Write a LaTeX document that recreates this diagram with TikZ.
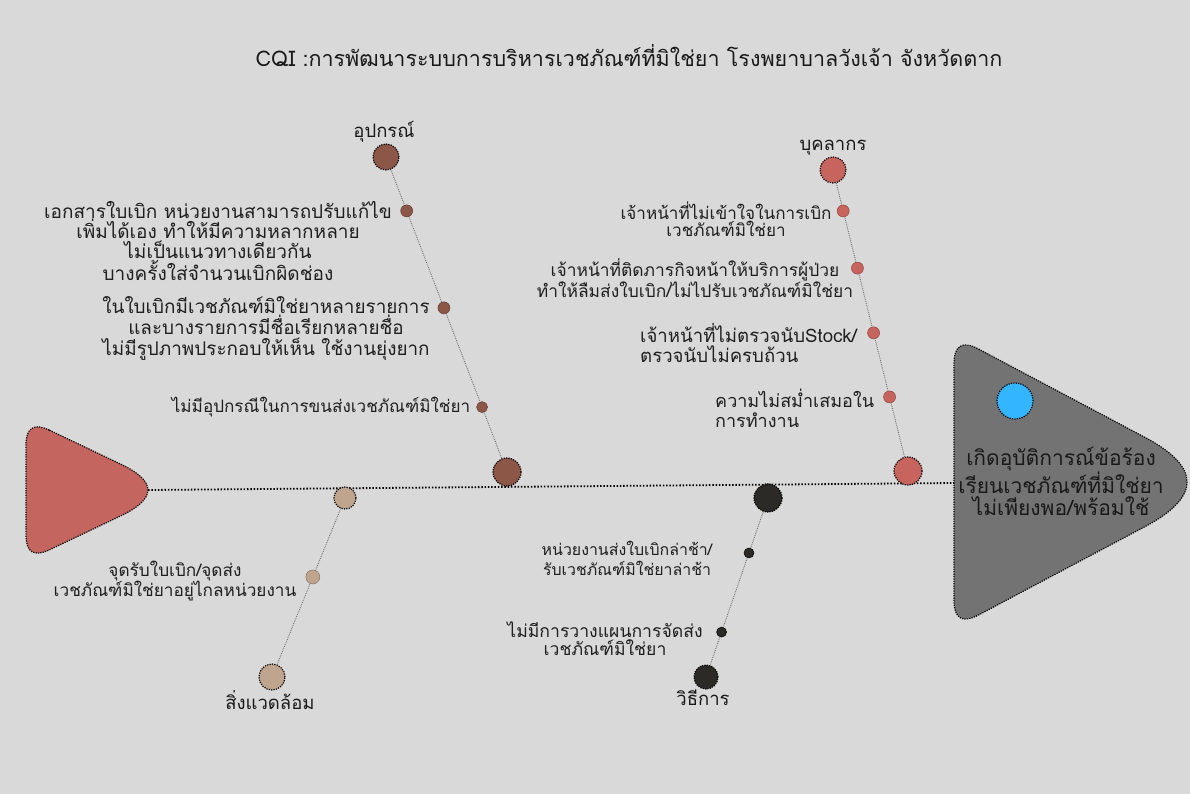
\documentclass[tikz,border=0pt]{standalone}
\usepackage{fontspec}
\newfontfamily\thai[Script=Thai]{Loma}
\usetikzlibrary{calc}
\definecolor{bgc}{HTML}{D9D9D9}
\definecolor{tailc}{HTML}{C4665F}
\definecolor{headc}{HTML}{737373}
\definecolor{bluec}{HTML}{33B5FF}
\definecolor{eqc}{HTML}{8C5747}
\definecolor{pec}{HTML}{C8645E}
\definecolor{enc}{HTML}{BFA58E}
\definecolor{mec}{HTML}{2B2A26}
\begin{document}
\begin{tikzpicture}[x=1pt,y=-1pt,
  dotline/.style={draw=black, line width=1.2pt, dash pattern=on 1.2pt off 1.2pt},
  bigdot/.style={circle, dotline, inner sep=0pt, minimum size=#1},
  smalldot/.style={circle, inner sep=0pt, minimum size=#1, line width=0.5pt},
  bone/.style={draw=black!55, line width=0.9pt, densely dotted},
  spine/.style={draw=black, line width=1.8pt, dash pattern=on 1.5pt off 1.8pt},
  txt/.style 2 args={font=\thai\fontsize{#1}{#2}\selectfont, align=center, inner sep=0pt, text=black!88},
  cat/.style={font=\thai\fontsize{18.5}{20}\selectfont, inner sep=0pt, text=black!90}]
\useasboundingbox (0,0) rectangle (1190,794);
\fill[bgc] (0,0) rectangle (1190,794);

% title
\node[font=\thai\fontsize{21.5}{24}\selectfont, inner sep=0pt, text=black!90] (title) at (629,56)
  {CQI :การพัฒนาระบบการบริหารเวชภัณฑ์ที่มิใช่ยา โรงพยาบาลวังเจ้า จังหวัดตาก};

% tail
\coordinate (tA) at (26,419); \coordinate (tB) at (175,490); \coordinate (tC) at (26,561);
\path[dotline, fill=tailc]
  ($(tA)!26pt!(tB)$) -- ($(tB)!60pt!(tA)$)
  .. controls ($(tB)!20pt!(tA)$) and ($(tB)!20pt!(tC)$) .. ($(tB)!60pt!(tC)$)
  -- ($(tC)!26pt!(tB)$)
  .. controls ($(tC)!8.7pt!(tB)$) and ($(tC)!8.7pt!(tA)$) .. ($(tC)!26pt!(tA)$)
  -- ($(tA)!26pt!(tC)$)
  .. controls ($(tA)!8.7pt!(tC)$) and ($(tA)!8.7pt!(tB)$) .. ($(tA)!26pt!(tB)$) -- cycle;

% head
\coordinate (hA) at (954,336); \coordinate (hB) at (1229,482); \coordinate (hC) at (954,628);
\path[dotline, fill=headc]
  ($(hA)!28pt!(hB)$) -- ($(hB)!95pt!(hA)$)
  .. controls ($(hB)!31.7pt!(hA)$) and ($(hB)!31.7pt!(hC)$) .. ($(hB)!95pt!(hC)$)
  -- ($(hC)!28pt!(hB)$)
  .. controls ($(hC)!9.3pt!(hB)$) and ($(hC)!9.3pt!(hA)$) .. ($(hC)!28pt!(hA)$)
  -- ($(hA)!28pt!(hC)$)
  .. controls ($(hA)!9.3pt!(hC)$) and ($(hA)!9.3pt!(hB)$) .. ($(hA)!28pt!(hB)$) -- cycle;
\node[bigdot=36pt, fill=bluec] (blue) at (1015,401) {};
\node[font=\thai\fontsize{21}{22}\selectfont, align=center, inner sep=0pt, text=black!90] (headtxt) at (1061,481)
  {เกิดอุบัติการณ์ข้อร้อง\\เรียนเวชภัณฑ์ที่มิใช่ยา\\ไม่เพียงพอ/พร้อมใช้};

% spine
\coordinate (tailtip) at (148,490);
\coordinate (headL) at (954,483);
\draw[spine] (tailtip) -- (headL);

% ---- equipment
\node[bigdot=26pt, fill=eqc] (eqB) at (386,157) {};
\node[bigdot=28pt, fill=eqc] (eqS) at (507,472) {};
\draw[bone] (eqB) -- (eqS);
\node[cat, anchor=south] (eqL) at (384,143) {อุปกรณ์};
\node[smalldot=12pt, fill=eqc, draw=eqc!70!black] (eq1) at ($(eqB)!0.171!(eqS)$) {};
\node[smalldot=12pt, fill=eqc, draw=eqc!70!black] (eq2) at ($(eqB)!0.479!(eqS)$) {};
\node[smalldot=11pt, fill=eqc, draw=eqc!70!black] (eq3) at ($(eqB)!0.794!(eqS)$) {};
\node[txt={19}{20}] (eqt1) at (218,241) {เอกสารใบเบิก หน่วยงานสามารถปรับแก้ไข\\เพิ่มได้เอง ทำให้มีความหลากหลาย\\ไม่เป็นแนวทางเดียวกัน\\บางครั้งใส่จำนวนเบิกผิดช่อง};
\node[txt={18.9}{21}] (eqt2) at (266,328) {ในใบเบิกมีเวชภัณฑ์มิใช่ยาหลายรายการ\\และบางรายการมีชื่อเรียกหลายชื่อ\\ไม่มีรูปภาพประกอบให้เห็น ใช้งานยุ่งยาก};
\node[txt={17.1}{20}] (eqt3) at (321,407) {ไม่มีอุปกรณีในการขนส่งเวชภัณฑ์มิใช่ยา};

% ---- personnel
\node[bigdot=26pt, fill=pec] (peB) at (833,170) {};
\node[bigdot=28pt, fill=pec] (peS) at (908,471) {};
\draw[bone] (peB) -- (peS);
\node[cat, anchor=south] (peL) at (833,156) {บุคลากร};
\node[smalldot=12pt, fill=pec, draw=pec!70!black] (pe1) at ($(peB)!0.136!(peS)$) {};
\node[smalldot=12pt, fill=pec, draw=pec!70!black] (pe2) at ($(peB)!0.326!(peS)$) {};
\node[smalldot=12pt, fill=pec, draw=pec!70!black] (pe3) at ($(peB)!0.541!(peS)$) {};
\node[smalldot=12pt, fill=pec, draw=pec!70!black] (pe4) at ($(peB)!0.754!(peS)$) {};
\node[txt={17.1}{17}] (pet1) at (726,219) {เจ้าหน้าที่ไม่เข้าใจในการเบิก\\เวชภัณฑ์มิใช่ยา};
\node[txt={17.4}{21}] (pet2) at (695,278) {เจ้าหน้าที่ติดภารกิจหน้าให้บริการผู้ป่วย\\ทำให้ลืมส่งใบเบิก/ไม่ไปรับเวชภัณฑ์มิใช่ยา};
\node[txt={18.6}{20}, align=left, anchor=west] (pet3) at (640,343) {เจ้าหน้าที่ไม่ตรวจนับStock/\\ตรวจนับไม่ครบถ้วน};
\node[txt={18}{20}, align=left, anchor=west] (pet4) at (715,408) {ความไม่สม่ำเสมอใน\\การทำงาน};

% ---- environment
\node[bigdot=22pt, fill=enc] (enS) at (345,498) {};
\node[bigdot=26pt, fill=enc] (enB) at (272,677) {};
\draw[bone] (enS) -- (enB);
\node[cat, anchor=north] (enL) at (270,690) {สิ่งแวดล้อม};
\node[smalldot=14pt, fill=enc, draw=enc!70!black] (en1) at ($(enS)!0.441!(enB)$) {};
\node[txt={17.2}{18}] (ent1) at (175,581) {จุดรับใบเบิก/จุดส่ง\\เวชภัณฑ์มิใช่ยาอยู่ไกลหน่วยงาน};

% ---- method
\node[bigdot=28pt, fill=mec] (meS) at (768,498) {};
\node[bigdot=24pt, fill=mec] (meB) at (706,677) {};
\draw[bone] (meS) -- (meB);
\node[cat, anchor=north] (meL) at (703,690) {วิธีการ};
\node[smalldot=10pt, fill=mec, draw=black] (me1) at ($(meS)!0.307!(meB)$) {};
\node[smalldot=10pt, fill=mec, draw=black] (me2) at ($(meS)!0.749!(meB)$) {};
\node[txt={15.9}{20}] (met1) at (627,558) {หน่วยงานส่งใบเบิกล่าช้า/\\รับเวชภัณฑ์มิใช่ยาล่าช้า};
\node[txt={17.6}{18}] (met2) at (605,639) {ไม่มีการวางแผนการจัดส่ง\\เวชภัณฑ์มิใช่ยา};
\end{tikzpicture}
\end{document}
